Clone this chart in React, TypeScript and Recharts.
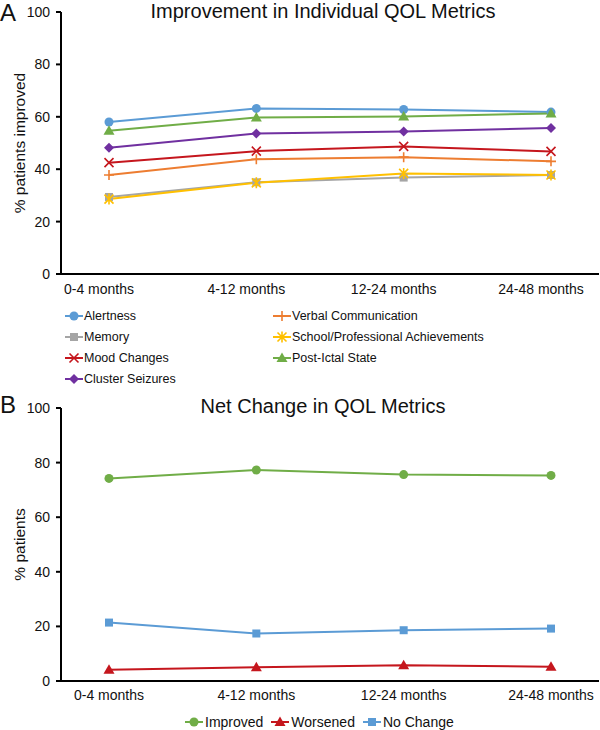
import React from "react";
import { LineChart, Line, XAxis, YAxis, Legend } from "recharts";

const periods = ["0-4 months", "4-12 months", "12-24 months", "24-48 months"];
const yTicks = [0, 20, 40, 60, 80, 100];

// Panel A: % patients improved per metric
const alertness = [58.0, 63.2, 62.8, 61.8];
const verbalCommunication = [37.8, 43.8, 44.6, 43.0];
const memory = [29.4, 35.0, 36.8, 37.8];
const schoolAchievements = [28.6, 34.8, 38.4, 37.8];
const moodChanges = [42.5, 46.9, 48.7, 46.8];
const postIctalState = [54.7, 59.7, 60.1, 61.3];
const clusterSeizures = [48.2, 53.6, 54.4, 55.7];

// Panel B: net change
const improved = [74.2, 77.3, 75.6, 75.3];
const worsened = [4.1, 5.0, 5.8, 5.2];
const noChange = [21.4, 17.4, 18.6, 19.2];

const FONT = '"Liberation Sans", Arial, sans-serif';

type Shape = "circle" | "plus" | "square" | "asterisk" | "cross" | "triangle" | "diamond";

interface Series {
  key: string;
  name: string;
  values: number[];
  color: string;
  shape: Shape;
}

const metricSeries: Series[] = [
  { key: "alertness", name: "Alertness", values: alertness, color: "#5B9BD5", shape: "circle" },
  { key: "verbal", name: "Verbal Communication", values: verbalCommunication, color: "#ED7D31", shape: "plus" },
  { key: "memory", name: "Memory", values: memory, color: "#A5A5A5", shape: "square" },
  { key: "school", name: "School/Professional Achievements", values: schoolAchievements, color: "#FFC000", shape: "asterisk" },
  { key: "mood", name: "Mood Changes", values: moodChanges, color: "#C5161D", shape: "cross" },
  { key: "postIctal", name: "Post-Ictal State", values: postIctalState, color: "#70AD47", shape: "triangle" },
  { key: "cluster", name: "Cluster Seizures", values: clusterSeizures, color: "#7030A0", shape: "diamond" },
];

const netSeries: Series[] = [
  { key: "improved", name: "Improved", values: improved, color: "#70AD47", shape: "circle" },
  { key: "worsened", name: "Worsened", values: worsened, color: "#C5161D", shape: "triangle" },
  { key: "noChange", name: "No Change", values: noChange, color: "#5B9BD5", shape: "square" },
];

function buildRows(series: Series[]) {
  return periods.map((period, i) => {
    const row: Record<string, string | number> = { period };
    series.forEach((s) => {
      row[s.key] = s.values[i];
    });
    return row;
  });
}

const metricData = buildRows(metricSeries);
const netData = buildRows(netSeries);

function Marker({ shape, x, y, color }: { shape: Shape; x: number; y: number; color: string }) {
  switch (shape) {
    case "circle":
      return <circle cx={x} cy={y} r={4.5} fill={color} />;
    case "square":
      return <rect x={x - 4} y={y - 4} width={8} height={8} fill={color} />;
    case "triangle":
      return <polygon points={`${x},${y - 5.5} ${x + 5.5},${y + 4} ${x - 5.5},${y + 4}`} fill={color} />;
    case "diamond":
      return <polygon points={`${x},${y - 5} ${x + 5},${y} ${x},${y + 5} ${x - 5},${y}`} fill={color} />;
    case "plus":
      return (
        <path d={`M${x - 5},${y}H${x + 5}M${x},${y - 5}V${y + 5}`} stroke={color} strokeWidth={1.6} fill="none" />
      );
    case "cross":
      return (
        <path
          d={`M${x - 4.5},${y - 4.5}L${x + 4.5},${y + 4.5}M${x + 4.5},${y - 4.5}L${x - 4.5},${y + 4.5}`}
          stroke={color}
          strokeWidth={1.6}
          fill="none"
        />
      );
    case "asterisk":
      return (
        <path
          d={`M${x - 4.5},${y - 4.5}L${x + 4.5},${y + 4.5}M${x + 4.5},${y - 4.5}L${x - 4.5},${y + 4.5}M${x},${y - 5.5}V${y + 5.5}`}
          stroke={color}
          strokeWidth={1.6}
          fill="none"
        />
      );
  }
  return null;
}

function LegendIcon({ s }: { s: Series }) {
  return (
    <svg width={18} height={12} style={{ flex: "none" }}>
      <line x1={0} y1={6} x2={18} y2={6} stroke={s.color} strokeWidth={2} />
      <Marker shape={s.shape} x={9} y={6} color={s.color} />
    </svg>
  );
}

// keep legend entries in the order the series are declared
function seriesLookup(series: Series[], payload: any[] | undefined) {
  const keys = new Set((payload || []).map((p) => p.dataKey));
  return series.filter((s) => keys.has(s.key));
}

function MetricLegend({ payload }: any) {
  const items = seriesLookup(metricSeries, payload);
  return (
    <div style={{ display: "grid", gridTemplateColumns: "208px 260px", fontFamily: FONT, fontSize: 12.5, color: "#111" }}>
      {items.map((s) => (
        <div key={s.key} style={{ display: "flex", alignItems: "center", height: 21 }}>
          <LegendIcon s={s} />
          <span style={{ marginLeft: 1, whiteSpace: "nowrap" }}>{s.name}</span>
        </div>
      ))}
    </div>
  );
}

function NetLegend({ payload }: any) {
  const items = seriesLookup(netSeries, payload);
  return (
    <div style={{ display: "flex", fontFamily: FONT, fontSize: 14, color: "#111" }}>
      {items.map((s) => (
        <div key={s.key} style={{ display: "flex", alignItems: "center", height: 20, marginRight: 8 }}>
          <LegendIcon s={s} />
          <span style={{ marginLeft: 2, whiteSpace: "nowrap" }}>{s.name}</span>
        </div>
      ))}
    </div>
  );
}

const tickStyle = { fill: "#111", fontSize: 14, fontFamily: FONT };

function renderLines(series: Series[]) {
  return series.map((s) => (
    <Line
      key={s.key}
      dataKey={s.key}
      name={s.name}
      stroke={s.color}
      strokeWidth={2}
      isAnimationActive={false}
      dot={(p: any) => <Marker key={`${s.key}-${p.index}`} shape={s.shape} x={p.cx} y={p.cy} color={s.color} />}
      activeDot={false}
    />
  ));
}

const textBase: React.CSSProperties = { position: "absolute", fontFamily: FONT, color: "#111", whiteSpace: "nowrap" };

export default function App() {
  return (
    <div style={{ position: "absolute", left: 0, top: 0, width: 600, height: 730, background: "#fff" }}>
      <div style={{ ...textBase, left: 0, top: 1, fontSize: 24, lineHeight: "24px" }}>A</div>
      <div style={{ ...textBase, left: 123, top: 1, width: 400, textAlign: "center", fontSize: 20, lineHeight: "20px" }}>
        Improvement in Individual QOL Metrics
      </div>
      <div style={{ position: "absolute", left: 0, top: 0 }}>
        <LineChart width={600} height={390} data={metricData} margin={{ top: 12, right: 1, bottom: 90, left: 0 }}>
          <XAxis
            dataKey="period"
            scale="point"
            padding={{ left: 48, right: 48 }}
            height={26}
            tickLine={false}
            tickSize={0}
            tickMargin={10}
            axisLine={{ stroke: "#000", strokeWidth: 2 }}
            tick={{ ...tickStyle, dx: -10 }}
          />
          <YAxis
            width={61}
            domain={[0, 100]}
            ticks={yTicks}
            tickSize={5}
            tickMargin={6}
            axisLine={{ stroke: "#000", strokeWidth: 2 }}
            tickLine={{ stroke: "#000", strokeWidth: 2 }}
            tick={tickStyle}
            label={{
              value: "% patients improved",
              angle: -90,
              position: "insideLeft",
              offset: 19,
              style: { textAnchor: "middle", fontSize: 15.5, fontFamily: FONT, fill: "#111" },
            }}
          />
          {renderLines(metricSeries)}
          <Legend
            layout="horizontal"
            verticalAlign="middle"
            align="center"
            content={<MetricLegend />}
            wrapperStyle={{ position: "absolute", left: 65, top: 305, width: 500 }}
          />
        </LineChart>
      </div>

      <div style={{ ...textBase, left: 0, top: 393, fontSize: 24, lineHeight: "24px" }}>B</div>
      <div style={{ ...textBase, left: 123, top: 396, width: 400, textAlign: "center", fontSize: 20, lineHeight: "20px" }}>
        Net Change in QOL Metrics
      </div>
      <div style={{ position: "absolute", left: 0, top: 390 }}>
        <LineChart width={600} height={340} data={netData} margin={{ top: 18, right: 1, bottom: 23, left: 0 }}>
          <XAxis
            dataKey="period"
            scale="point"
            padding={{ left: 48, right: 48 }}
            height={26}
            tickLine={false}
            tickSize={0}
            tickMargin={9}
            axisLine={{ stroke: "#000", strokeWidth: 2 }}
            tick={tickStyle}
          />
          <YAxis
            width={61}
            domain={[0, 100]}
            ticks={yTicks}
            tickSize={5}
            tickMargin={6}
            axisLine={{ stroke: "#000", strokeWidth: 2 }}
            tickLine={{ stroke: "#000", strokeWidth: 2 }}
            tick={tickStyle}
            label={{
              value: "% patients",
              angle: -90,
              position: "insideLeft",
              offset: 19,
              style: { textAnchor: "middle", fontSize: 15.5, fontFamily: FONT, fill: "#111" },
            }}
          />
          {renderLines(netSeries)}
          <Legend
            layout="horizontal"
            verticalAlign="middle"
            align="center"
            content={<NetLegend />}
            wrapperStyle={{ position: "absolute", left: 185, top: 322, width: 320 }}
          />
        </LineChart>
      </div>
    </div>
  );
}
